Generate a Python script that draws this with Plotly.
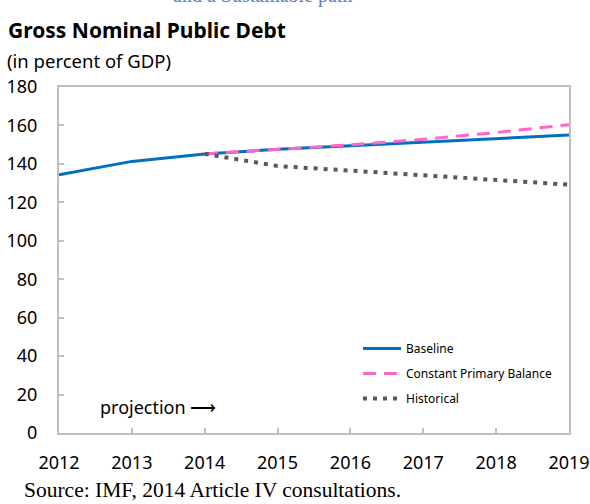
import plotly.graph_objects as go

years = [2012, 2013, 2014, 2015, 2016, 2017, 2018, 2019]
baseline = [134.4, 141.3, 145.2, 147.6, 149.5, 151.4, 153.2, 155.0]
proj_years = [2014, 2015, 2016, 2017, 2018, 2019]
constant_pb = [145.2, 147.6, 149.9, 152.8, 156.3, 160.4]
historical = [145.2, 138.9, 136.5, 134.2, 131.6, 129.2]
y_ticks = [0, 20, 40, 60, 80, 100, 120, 140, 160, 180]

L, R, T, B = 59, 569, 87, 433
PW, PH = R - L, B - T


def px(x):
    return (x - L) / PW


def py(y):
    return (B - y) / PH


fig = go.Figure()
fig.add_trace(go.Scatter(x=years, y=baseline, mode="lines", name="Baseline", legendgroup="a",
                         line=dict(color="#0070C0", width=3)))
fig.add_trace(go.Scatter(x=proj_years, y=constant_pb, mode="lines", name="Constant Primary Balance",
                         legendgroup="b", line=dict(color="#FF66CC", width=3, dash="13px,8px")))
fig.add_trace(go.Scatter(x=proj_years, y=historical, mode="lines", name="Historical", legendgroup="c",
                         line=dict(color="#595959", width=4, dash="4px,6px")))

sans = "Noto Sans, Open Sans, sans-serif"
axis_font = dict(family=sans, size=18, color="#000000")
fig.update_layout(
    width=590, height=504,
    margin=dict(l=L, r=590 - R, t=T, b=504 - B),
    paper_bgcolor="white", plot_bgcolor="white",
    showlegend=True,
    legend=dict(x=px(358), y=py(334), xanchor="left", yanchor="top",
                font=dict(family=sans, size=12, color="#000"),
                bgcolor="rgba(0,0,0,0)", itemwidth=38, tracegroupgap=6),
    xaxis=dict(range=[2012, 2019], tickvals=years, ticktext=[str(y) for y in years],
               showgrid=False, zeroline=False, showline=True, linecolor="#BFBFBF", linewidth=2,
               mirror=True, ticks="inside", ticklen=5, tickcolor="#BFBFBF", tickwidth=2,
               tickfont=axis_font, ticklabelstandoff=12, automargin=False),
    yaxis=dict(range=[0, 180], tickvals=y_ticks, showgrid=False, zeroline=False,
               showline=True, linecolor="#BFBFBF", linewidth=2, mirror=True,
               ticks="inside", ticklen=5, tickcolor="#BFBFBF", tickwidth=2,
               tickfont=axis_font, ticklabelstandoff=16, automargin=False),
)

fig.add_annotation(xref="paper", yref="paper", x=px(6), y=py(30), xanchor="left",
                   yanchor="middle", showarrow=False,
                   text="<b>Gross Nominal Public Debt</b>",
                   font=dict(family=sans, size=21, color="#000"))
fig.add_annotation(xref="paper", yref="paper", x=px(5), y=py(61), xanchor="left",
                   yanchor="middle", showarrow=False,
                   text="(in percent of GDP)",
                   font=dict(family=sans, size=18.5, color="#000"))
fig.add_annotation(xref="paper", yref="paper", x=px(262), y=py(9), xanchor="center",
                   yanchor="bottom", showarrow=False,
                   text="and a Sustainable path",
                   font=dict(family="Liberation Serif, serif", size=20, color="#5B7FC4"))
fig.add_annotation(xref="paper", yref="paper", x=px(98), y=py(407), xanchor="left",
                   yanchor="middle", showarrow=False,
                   text="projection \u27f6",
                   font=dict(family=sans, size=18, color="#000"))
fig.add_annotation(xref="paper", yref="paper", x=px(22), y=py(490), xanchor="left",
                   yanchor="middle", showarrow=False,
                   text="Source: IMF, 2014 Article IV consultations.",
                   font=dict(family="Liberation Serif, serif", size=21.5, color="#000"))

fig.write_html("out.html", config={"displayModeBar": False},
               post_script="document.body.style.margin='0';")
